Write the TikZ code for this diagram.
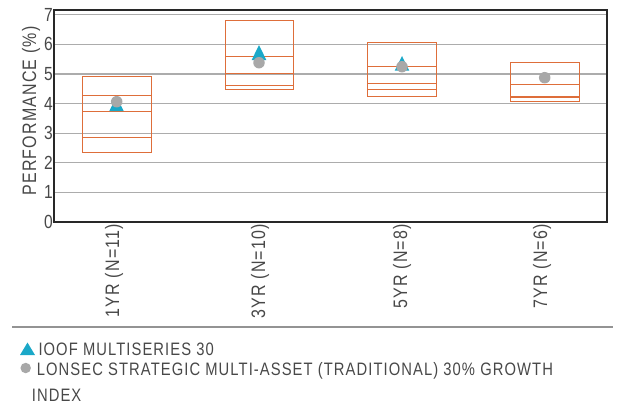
\documentclass[tikz,border=0pt]{standalone}
\usepackage{fontspec}
\setmainfont[FakeStretch=0.82,LetterSpace=6]{Liberation Sans}
\definecolor{gridc}{RGB}{172,172,172}
\definecolor{boxc}{RGB}{222,110,58}
\definecolor{tric}{RGB}{26,168,200}
\definecolor{dotc}{RGB}{168,168,168}
\definecolor{txtc}{RGB}{72,72,72}
\definecolor{framec}{RGB}{40,40,40}
\tikzset{
  gridline/.style={gridc, line width=1.2pt},
  frameline/.style={framec, line width=1.1pt},
  boxline/.style={boxc, line width=0.95pt},
  ticklabel/.style={anchor=east, inner sep=0pt, font=\fontsize{19}{19}\selectfont, text=txtc},
  catlabel/.style={rotate=90, anchor=east, inner sep=0pt, font=\fontsize{19.5}{19.5}\selectfont, text=txtc},
  legtext/.style={anchor=base west, inner sep=0pt, font=\fontsize{18}{18}\selectfont, text=txtc},
  trimark/.style={fill=tric},
  dotmark/.style={circle, fill=dotc, inner sep=0pt, minimum size=11.5pt},
}
\begin{document}
\begin{tikzpicture}[x=1pt,y=-1pt]
\useasboundingbox (0,0) rectangle (618,413);
% grid lines
\foreach \v in {1,...,7}{
  \draw[gridline] (54,{222-29.6*\v}) -- (607,{222-29.6*\v});
}
% tick labels
\foreach \v in {0,...,7}{
  \node[ticklabel] (t\v) at (53,{222-29.6*\v}) {\v};
}
% axis title
\node[rotate=90, inner sep=0pt, font=\fontsize{19.5}{19.5}\selectfont, text=txtc] (ytitle) at (31,111) {PERFORMANCE (\%)};
% boxes
% 1YR
\draw[boxline] (82,76) rectangle (151,152);
\foreach \yy in {95.7,111.3,137.3} \draw[boxline] (82,\yy) -- (151,\yy);
% 3YR
\draw[boxline] (225,20) rectangle (293,89.3);
\foreach \yy in {56.7,73,85.7} \draw[boxline] (225,\yy) -- (293,\yy);
% 5YR
\draw[boxline] (367.3,42.7) rectangle (436.3,96.3);
\foreach \yy in {66.7,83.3,89.3} \draw[boxline] (367.3,\yy) -- (436.3,\yy);
% 7YR
\draw[boxline] (510.7,62.3) rectangle (579,101);
\draw[boxline] (510.7,84.7) -- (579,84.7);
\draw[boxc, line width=1.8pt] (510.7,97) -- (579,97);
% fund markers (triangles)
\fill[trimark] (116.5,96.5) -- (123.7,111) -- (109.3,111) -- cycle;
\fill[trimark] (259,45) -- (266.3,60) -- (251.7,60) -- cycle;
\fill[trimark] (402,56) -- (409.3,70.7) -- (394.7,70.7) -- cycle;
% index markers (circles)
\node[dotmark] (d1) at (116.7,101.7) {};
\node[dotmark] (d3) at (259,62.7) {};
\node[dotmark] (d5) at (402,66.7) {};
\node[dotmark] (d7) at (544.7,77.7) {};
% frame
\draw[frameline] (54,10) rectangle (607,222);
% category labels
\node[catlabel] (c1) at (114,224) {1YR (N=11)};
\node[catlabel] (c3) at (260,224) {3YR (N=10)};
\node[catlabel] (c5) at (402,224) {5YR (N=8)};
\node[catlabel] (c7) at (542,224) {7YR (N=6)};
% separator
\draw[gray!85, line width=1.4pt] (12,327) -- (613,327);
% legend
\fill[trimark] (27.5,342.5) -- (35,355) -- (20,355) -- cycle;
\node[circle, fill=dotc, inner sep=0pt, minimum size=10.5pt] (legdot) at (25.7,368) {};
\node[legtext] (leg1) at (38.3,355) {IOOF MULTISERIES 30};
\node[legtext] (leg2) at (36.7,375) {LONSEC STRATEGIC MULTI-ASSET (TRADITIONAL) 30\% GROWTH};
\node[legtext] (leg3) at (31.7,401.7) {INDEX};
\end{tikzpicture}
\end{document}
